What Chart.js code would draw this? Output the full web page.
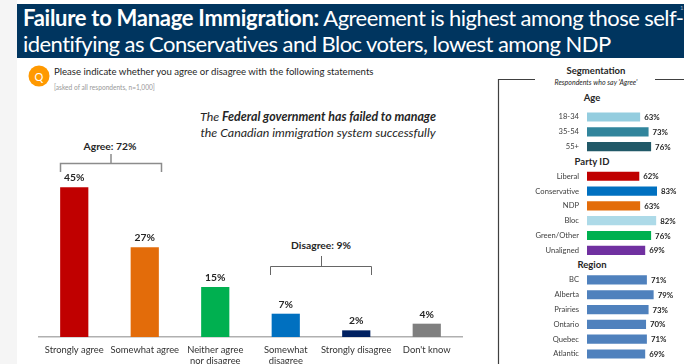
<!DOCTYPE html>
<html>
<head>
<meta charset="utf-8">
<script src="https://cdn.jsdelivr.net/npm/chart.js@4/dist/chart.umd.js"></script>
<style>
html,body{margin:0;padding:0;background:#f5f5f5;}
#page{position:relative;width:684px;height:364px;overflow:hidden;font-family:Lato,sans-serif;color:#262626;filter:blur(0.4px);}
#sheet{position:absolute;left:17px;top:0;width:667px;height:364px;background:#fff;}
#banner{position:absolute;left:17px;top:4px;width:667px;height:54px;background:#00355F;}
.t{position:absolute;white-space:nowrap;line-height:1;transform:translateY(-50%);}
.c{transform:translate(-50%,-50%);}
.title{color:#fff;font-size:22px;left:23px;}
.title b{letter-spacing:-0.28px;}
canvas{position:absolute;}
svg{position:absolute;left:0;top:0;}
</style>
</head>
<body>
<div id="page">
  <div id="sheet"></div>
  <div id="banner"></div>
  <div class="t title" style="top:18px;letter-spacing:-0.55px"><b>Failure to Manage Immigration:</b> Agreement is highest among those self-</div>
  <div class="t title" style="top:44px;letter-spacing:-0.55px">identifying as Conservatives and Bloc voters, lowest among NDP</div>
  <div class="t" style="left:680px;top:8px;color:#9fb4c6;font-size:6px">11</div>

  <div class="t c" style="left:39px;top:76px;width:21px;height:21px;border-radius:50%;background:#FF9900;color:#fff;font-size:11px;line-height:21px;text-align:center;">Q</div>
  <div class="t" style="left:54px;top:72px;font-size:9.6px">Please indicate whether you agree or disagree with the following statements</div>
  <div class="t" style="left:54px;top:87px;font-size:6.6px;color:#999">[asked of all respondents, n=1,000]</div>

  <div class="t c" style="left:318px;top:117px;font-size:12.4px;font-style:italic">The <b>Federal government has failed to manage</b></div>
  <div class="t c" style="left:318px;top:133px;font-size:12.4px;font-style:italic">the Canadian immigration system successfully</div>

  <div class="t c" style="left:110px;top:146px;font-size:10.3px;font-weight:700">Agree: 72%</div>
  <div class="t c" style="left:321px;top:245px;font-size:10.3px;font-weight:700">Disagree: 9%</div>

  <div class="t c" style="left:596px;top:71px;font-size:9.5px;font-weight:700">Segmentation</div>
  <div class="t c" style="left:596px;top:82px;font-size:7px;font-style:italic">Respondents who say 'Agree'</div>
  <div class="t c" style="left:592px;top:98px;font-size:9.5px;font-weight:700">Age</div>
  <div class="t c" style="left:592px;top:162px;font-size:9.5px;font-weight:700">Party ID</div>
  <div class="t c" style="left:592px;top:265px;font-size:9.5px;font-weight:700">Region</div>

  <svg width="684" height="364" fill="none">
    <path d="M60.5 172V163.5H161.5V172M111 163.5V154" stroke="#8c8c8c" stroke-width="1.5"/>
    <path d="M270.5 275V266.5H371.5V275M321.5 266.5V256" stroke="#666" stroke-width="1"/>
    <path d="M535 79.5H498.5V364M655 79.5H684" stroke="#404040" stroke-width="1.2"/>
  </svg>

  <canvas id="main" style="left:0;top:130px"></canvas>
  <canvas id="seg" style="left:500px;top:100px"></canvas>
</div>

<script>
const responseLabels = ['Strongly agree','Somewhat agree',['Neither agree','nor disagree'],['Somewhat','disagree'],'Strongly disagree',"Don't know"];
const responseValues = [45,27,15,7,2,4];
const responseColors = ['#C00000','#E36C0A','#00B050','#0070C0','#002060','#7F7F7F'];

const ageLabels = ['18-34','35-54','55+'];
const ageValues = [63,73,76];
const ageColors = ['#94CDDF','#31859C','#215968'];

const partyLabels = ['Liberal','Conservative','NDP','Bloc','Green/Other','Unaligned'];
const partyValues = [62,83,63,82,76,69];
const partyColors = ['#C00000','#0070C0','#E36C0A','#ADDAE8','#00B050','#7030A0'];

const regionLabels = ['BC','Alberta','Prairies','Ontario','Quebec','Atlantic'];
const regionValues = [71,79,73,70,71,69];
const regionColor = '#4F81BD';

const segLabels = [...ageLabels,'',...partyLabels,'',...regionLabels];
const segValues = [...ageValues,null,...partyValues,null,...regionValues];
const segColors = [...ageColors,'#fff',...partyColors,'#fff',...regionLabels.map(()=>regionColor)];

function valueLabels(font, horizontal){
  return {
    id:'valueLabels',
    afterDatasetsDraw(chart){
      const c = chart.ctx;
      c.save();
      c.font = font; c.fillStyle = '#262626';
      chart.getDatasetMeta(0).data.forEach((el,i)=>{
        const v = chart.data.datasets[0].data[i];
        if(v==null) return;
        if(horizontal){ c.textAlign='left'; c.textBaseline='middle'; c.fillText(v+'%', el.x+4, el.y+0.5); }
        else { c.textAlign='center'; c.textBaseline='middle'; c.fillText(v+'%', el.x, el.y-9.5); }
      });
      c.restore();
    }
  };
}

Chart.defaults.font.family = 'Lato, sans-serif';
Chart.defaults.animation = false;

function size(id,w,h){const e=document.getElementById(id);e.width=w;e.height=h;e.style.width=w+'px';e.style.height=h+'px';return e;}

new Chart(size('main',490,234),{
  type:'bar',
  data:{labels:responseLabels,datasets:[{data:responseValues,backgroundColor:responseColors,barPercentage:0.4,categoryPercentage:1}]},
  options:{
    responsive:false,
    layout:{autoPadding:false,padding:{left:39,right:28,top:0,bottom:0}},
    plugins:{legend:{display:false},tooltip:{enabled:false}},
    scales:{
      y:{display:false,min:0,max:62.2},
      x:{
        afterFit(s){s.height=27;},
        grid:{display:false,drawTicks:false},
        border:{color:'#b0b0b0',width:1.5},
        ticks:{color:'#333',font:{size:9.4},padding:7,maxRotation:0,autoSkip:false}
      }
    }
  },
  plugins:[valueLabels('700 10.3px Lato',false)]
});

new Chart(size('seg',184,264),{
  type:'bar',
  data:{labels:segLabels,datasets:[{data:segValues,backgroundColor:segColors,barPercentage:0.62,categoryPercentage:1}]},
  options:{
    indexAxis:'y',
    responsive:false,
    layout:{autoPadding:false,padding:{left:0,right:0,top:9.6,bottom:2.6}},
    plugins:{legend:{display:false},tooltip:{enabled:false}},
    scales:{
      x:{display:false,min:0,max:115},
      y:{
        afterFit(s){s.width=87;s.paddingTop=0;s.paddingBottom=0;},
        grid:{display:false,drawOnChartArea:false,drawTicks:true,tickLength:8,tickColor:'rgba(0,0,0,0)'},
        border:{display:false},
        ticks:{color:'#404040',font:{size:7.6},padding:0,autoSkip:false}
      }
    }
  },
  plugins:[valueLabels('700 7.8px Lato',true)]
});
</script>
</body>
</html>
